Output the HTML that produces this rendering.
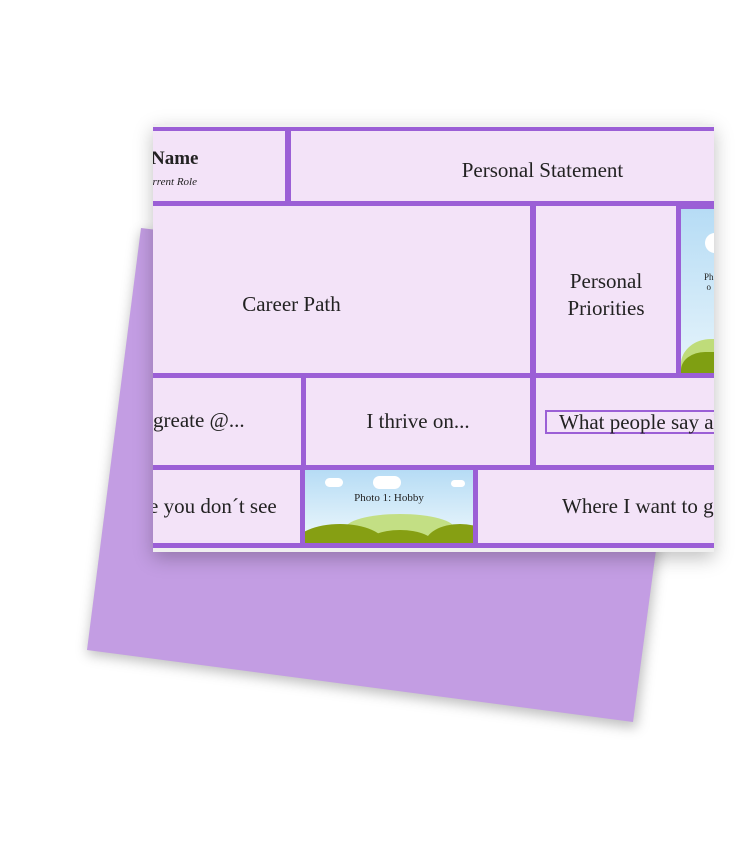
<!DOCTYPE html>
<html><head><style>
html,body{margin:0;padding:0;background:#fff;width:750px;height:850px;overflow:hidden;position:relative;font-family:"Liberation Serif",serif;}
.card{position:absolute;left:153px;top:124px;width:561px;height:428px;background:#f0f0f0;box-shadow:0 6px 18px rgba(0,0,0,0.25);overflow:hidden;}
.c{position:absolute;background:#f3e3f8;display:flex;align-items:center;justify-content:center;text-align:center;color:#222;font-size:20px;}
.bg{position:absolute;background:#9b5fd6;}
</style></head><body>
<svg width="750" height="850" style="position:absolute;left:0;top:0">
<defs><filter id="s" x="-20%" y="-20%" width="140%" height="140%"><feGaussianBlur stdDeviation="6"/></filter></defs>
<polygon points="141,232 690,300 636,728 87,654" fill="rgba(0,0,0,0.25)" filter="url(#s)"/>
<polygon points="141,228 690,296 633,722 87,650" fill="#c39de3"/>
</svg>
<div class="card">
<div class="bg" style="left:0;top:3px;width:561px;height:421px"></div>
<!-- row1 -->
<div class="c" style="left:0;top:7px;width:132px;height:70px;display:block;text-align:left">
<div style="font-weight:bold;font-size:19px;margin-top:17px;margin-left:-2px">Name</div>
<div style="font-style:italic;font-size:11px;margin-top:6px;margin-left:-6px">urrent Role</div></div>
<div class="c" style="left:138px;top:7px;width:423px;height:70px"><span style="margin-left:80px;margin-top:8px;font-size:21px">Personal Statement</span></div>
<!-- row2 -->
<div class="c" style="left:0;top:82px;width:377px;height:167px"><span style="margin-right:100px;margin-top:30px;font-size:21px">Career Path</span></div>
<div class="c" style="left:383px;top:82px;width:140px;height:167px;line-height:27px"><span style="margin-top:10px;font-size:21px">Personal<br>Priorities</span></div>
<div class="c" style="left:528px;top:85px;width:33px;height:164px;background:linear-gradient(#b6dcf5,#e6f4fb);overflow:hidden">
<div style="position:absolute;left:24px;top:24px;width:20px;height:20px;border-radius:50%;background:#fff"></div>
<div style="position:absolute;left:0;top:130px;width:60px;height:50px;border-radius:50% 0 0 0;background:#bfdc7a"></div>
<div style="position:absolute;left:0;top:143px;width:40px;height:30px;background:#7f9f12;border-radius:60% 0 0 0"></div>
<div style="position:absolute;left:23px;top:63px;font-size:9px">Ph<br>o</div></div>
<!-- row3 -->
<div class="c" style="left:0;top:254px;width:148px;height:87px;justify-content:flex-start"><span style="margin-top:-2px;font-size:21px">greate @...</span></div>
<div class="c" style="left:153px;top:254px;width:224px;height:87px"><span style="font-size:21px">I thrive on...</span></div>
<div class="c" style="left:383px;top:254px;width:178px;height:87px;justify-content:flex-start">
<div style="margin-left:9px;border:2px solid #9b5fd6;border-right:none;padding:0 0 0 12px;height:20px;line-height:20px;width:180px;text-align:left;white-space:nowrap;font-size:21px">What people say al</div></div>
<!-- row4 -->
<div class="c" style="left:0;top:346px;width:147px;height:73px;justify-content:flex-start;white-space:nowrap"><span style="margin-left:-4px;font-size:21px">e you don´t see</span></div>
<div class="c" style="left:152px;top:346px;width:168px;height:73px;background:linear-gradient(#b6dcf5,#eef8fc);overflow:hidden;align-items:flex-start">
<div style="position:absolute;left:20px;top:8px;width:18px;height:9px;border-radius:6px;background:#fff"></div>
<div style="position:absolute;left:68px;top:6px;width:28px;height:13px;border-radius:8px;background:#fff"></div>
<div style="position:absolute;left:146px;top:10px;width:14px;height:7px;border-radius:4px;background:#fff"></div>
<div style="position:absolute;left:40px;top:44px;width:110px;height:30px;border-radius:50%;background:#c3df84"></div>
<div style="position:absolute;left:-10px;top:54px;width:90px;height:40px;border-radius:50%;background:#869f13"></div>
<div style="position:absolute;left:60px;top:60px;width:70px;height:30px;border-radius:50%;background:#869f13"></div>
<div style="position:absolute;left:120px;top:54px;width:70px;height:40px;border-radius:50%;background:#869f13"></div>
<div style="position:relative;font-size:11px;margin-top:22px">Photo 1: Hobby</div></div>
<div class="c" style="left:325px;top:346px;width:236px;height:73px;white-space:nowrap;justify-content:flex-start"><span style="margin-left:84px;font-size:21px">Where I want to g</span></div>
</div>
</body></html>
